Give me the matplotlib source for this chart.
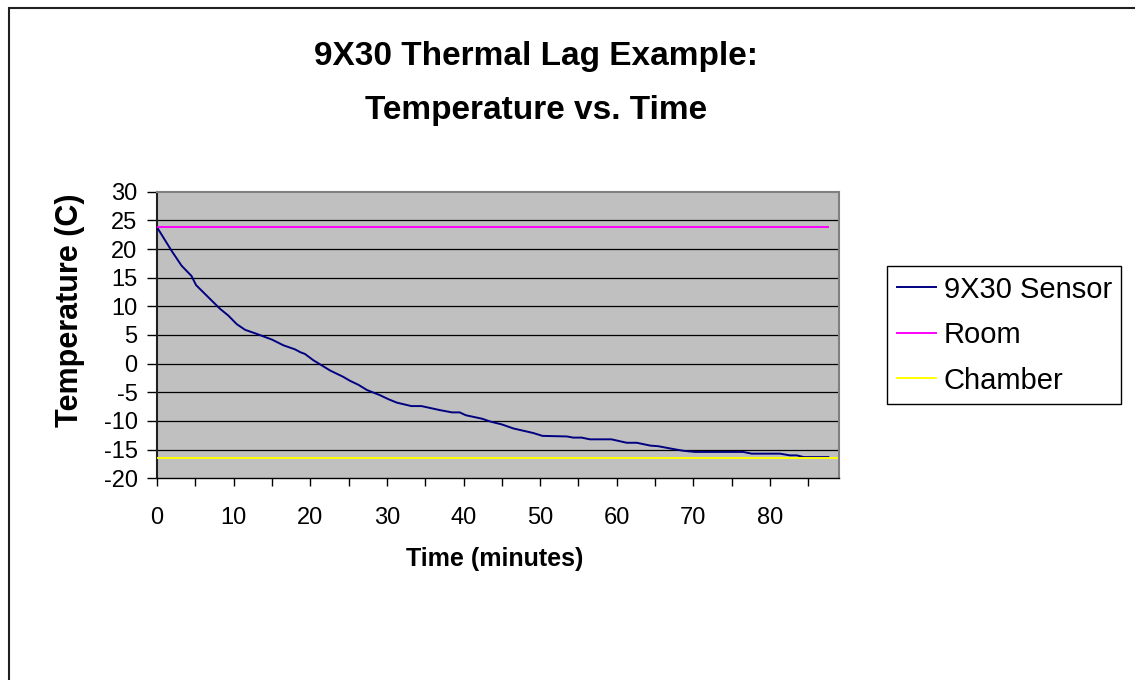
import matplotlib
matplotlib.use('Agg')
import matplotlib.pyplot as plt
from matplotlib.patches import Rectangle

plt.rcParams['font.family'] = ['Liberation Sans', 'DejaVu Sans']
plt.rcParams['axes.unicode_minus'] = False

# ---- data ----
sensor_time = [0, 1.9, 3.2, 4.5, 5.1, 8.2, 9.3, 10.4, 11.5, 13, 15, 16.5, 18,
               18.7, 19.3, 20.4, 22.6, 24.3, 25.2, 26.3, 27.4, 29.1, 30.2, 31.3,
               33.2, 34.5, 35.2, 36.9, 38.5, 39.5, 40.3, 42.4, 43.5, 45.0, 46.5,
               49.1, 50.3, 53.5, 54.3, 55.4, 56.5, 59.3, 61.3, 62.6, 64.4, 65.4,
               67.4, 68.7, 70.2, 76.5, 77.6, 81.3, 82.6, 83.5, 84.4, 87.6]
sensor_temp = [23.8, 19.7, 17.1, 15.3, 13.7, 9.6, 8.4, 6.9, 5.9, 5.2, 4.2, 3.2, 2.5,
               2.0, 1.7, 0.6, -1.2, -2.3, -3.0, -3.7, -4.6, -5.5, -6.2, -6.8,
               -7.4, -7.4, -7.6, -8.1, -8.5, -8.5, -9.0, -9.6, -10.1, -10.6, -11.3,
               -12.1, -12.6, -12.7, -12.9, -12.9, -13.2, -13.2, -13.8, -13.8, -14.3, -14.4,
               -14.9, -15.2, -15.4, -15.4, -15.7, -15.7, -16.0, -16.0, -16.3, -16.3]
room_time = [0, 87.6]
room_temp = [23.8, 23.8]
chamber_time = [0, 88.7]
chamber_temp = [-16.5, -16.5]

series_labels = ['9X30 Sensor', 'Room', 'Chamber']
x_ticks = list(range(0, 90, 5))
x_tick_labels = [str(v) if v % 10 == 0 else '' for v in x_ticks]
y_ticks = list(range(-20, 35, 5))
y_grid = [v for v in y_ticks if -20 < v < 30]

W, H = 1135, 680
fig = plt.figure(figsize=(W / 100, H / 100), dpi=100)
fig.patch.set_facecolor('white')

# outer chart border (cut off at right/bottom)
fig.patches.append(Rectangle((9 / W, -0.1), 1.2, 1 - 8 / H + 0.1,
                             transform=fig.transFigure, fill=False,
                             edgecolor='#202020', linewidth=1.5))

left, right, top, bottom = 157, 839, 191.7, 478.3
ax = fig.add_axes([left / W, 1 - bottom / H, (right - left) / W, (bottom - top) / H])
ax.set_facecolor('#C0C0C0')

for y in y_grid:
    ax.axhline(y, color='black', linewidth=0.9, zorder=1)

ax.plot(sensor_time, sensor_temp, color='#000080', linewidth=1.4,
        label=series_labels[0], zorder=3)
ax.plot(room_time, room_temp, color='#FF00FF', linewidth=1.4,
        label=series_labels[1], zorder=3)
ax.plot(chamber_time, chamber_temp, color='#FFFF00', linewidth=1.4,
        label=series_labels[2], zorder=3)

ax.set_xlim(0, 89)
ax.set_ylim(-20, 30)
ax.set_yticks(y_ticks)
ax.set_xticks(x_ticks)
ax.set_xticklabels(x_tick_labels)

ax.spines['left'].set_color('#202020')
ax.spines['left'].set_linewidth(1.5)
ax.spines['bottom'].set_color('black')
ax.spines['bottom'].set_linewidth(1.0)
for s in ('top', 'right'):
    ax.spines[s].set_color('#808080')
    ax.spines[s].set_linewidth(1.5)

ax.tick_params(axis='y', direction='out', length=7, width=1, labelsize=17,
               pad=7, colors='black')
ax.tick_params(axis='x', direction='out', length=6, width=1, labelsize=17,
               pad=15, colors='black')

# axis titles
fig.text(70 / W, 1 - 310 / H, 'Temperature (C)', rotation=90, ha='center',
         va='center', fontsize=22, fontweight='bold')
fig.text(495 / W, 1 - 559 / H, 'Time (minutes)', ha='center', va='center',
         fontsize=18, fontweight='bold')

# chart title
fig.text(536 / W, 1 - 57 / H, '9X30 Thermal Lag Example:', ha='center',
         va='center', fontsize=24, fontweight='bold')
fig.text(536 / W, 1 - 111 / H, 'Temperature vs. Time', ha='center',
         va='center', fontsize=24, fontweight='bold')

leg = fig.legend(loc='upper left', bbox_to_anchor=(887 / W, 1 - 266 / H),
                 frameon=True, fancybox=False, edgecolor='black', fontsize=21,
                 handlelength=1.34, labelspacing=0.6, borderpad=0.33,
                 handletextpad=0.27, framealpha=1, borderaxespad=0)
leg.get_frame().set_linewidth(1.0)

fig.savefig('out.png', dpi=100)
